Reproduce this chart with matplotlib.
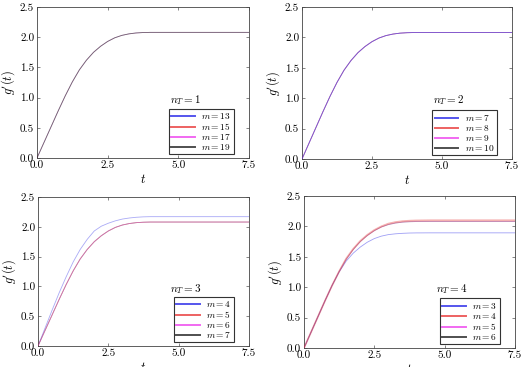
import matplotlib
matplotlib.use("Agg")
import matplotlib.pyplot as plt
import numpy as np

plt.rcParams['font.family'] = ['cmr10', 'DejaVu Serif']
plt.rcParams['mathtext.fontset'] = 'cm'
plt.rcParams['axes.formatter.use_mathtext'] = True
plt.rcParams['axes.unicode_minus'] = False

t = [0, 0.25, 0.5, 0.75, 1.0, 1.25, 1.5, 1.75, 2.0, 2.25, 2.5, 2.75, 3.0,
     3.25, 3.5, 3.75, 4.0, 4.5, 5.0, 6.0, 7.5]

base = [0, 0.26, 0.52, 0.78, 1.03, 1.26, 1.46, 1.62, 1.75, 1.85, 1.93, 1.99,
        2.03, 2.055, 2.07, 2.077, 2.08, 2.08, 2.08, 2.08, 2.08]

# n_T = 3, m = 4 (higher curve)
nt3_m4 = [0, 0.30, 0.60, 0.89, 1.16, 1.41, 1.62, 1.79, 1.93, 2.01, 2.06, 2.10,
          2.13, 2.148, 2.16, 2.167, 2.17, 2.17, 2.17, 2.17, 2.17]

# n_T = 4, m = 3 (lower curve)
nt4_m3 = [0, 0.26, 0.52, 0.78, 1.03, 1.25, 1.43, 1.56, 1.66, 1.74, 1.80, 1.84,
          1.865, 1.878, 1.886, 1.891, 1.893, 1.894, 1.894, 1.894, 1.894]

# n_T = 4, m = 4 (slightly higher plateau)
nt4_m4 = [0, 0.26, 0.52, 0.78, 1.03, 1.26, 1.47, 1.63, 1.76, 1.86, 1.94, 2.00,
          2.045, 2.07, 2.085, 2.093, 2.097, 2.10, 2.10, 2.10, 2.10]

panels = [
    dict(nT=1, ms=[13, 15, 17, 19], ys=[base, base, base, base]),
    dict(nT=2, ms=[7, 8, 9, 10], ys=[base, base, base, base]),
    dict(nT=3, ms=[4, 5, 6, 7], ys=[nt3_m4, base, base, base]),
    dict(nT=4, ms=[3, 4, 5, 6], ys=[nt4_m3, nt4_m4, base, base]),
]

colors = ['#2a2ae8', '#e83a3a', '#ee44ee', '#222222']
alphas = [
    [0.15, 0.15, 0.15, 0.6],
    [0.55, 0.3, 0.35, 0.3],
    [0.4, 0.35, 0.35, 0.4],
    [0.45, 0.4, 0.3, 0.4],
]
zorders = [
    [2, 3, 4, 5],
    [5, 3, 4, 2],
    [2, 4, 5, 3],
    [2, 5, 4, 3],
]
lwidths_p = [
    [0.6, 0.6, 0.6, 0.6],
    [0.6, 0.6, 0.6, 0.6],
    [0.6, 0.6, 0.6, 0.6],
    [0.6, 1.3, 0.6, 0.6],
]

W, H = 521, 367
fig = plt.figure(figsize=(W / 100, H / 100), dpi=100)

boxes = [
    (37, 249, 7, 158),
    (302, 512, 7, 159),
    (38, 249, 197, 346),
    (304, 515, 196, 348),
]

for i, (p, (l, r, tp, b)) in enumerate(zip(panels, boxes)):
    ax = fig.add_axes([l / W, (H - b) / H, (r - l) / W, (b - tp) / H])
    for j, (m, y) in enumerate(zip(p['ms'], p['ys'])):
        ax.plot(t, y, color=colors[j], alpha=alphas[i][j], lw=lwidths_p[i][j],
                zorder=zorders[i][j], label='$m=%d$' % m)
    ax.set_xlim(0, 7.5)
    ax.set_ylim(0, 2.5)
    ax.set_xticks([0, 2.5, 5.0, 7.5])
    ax.set_yticks([0, 0.5, 1.0, 1.5, 2.0, 2.5])
    ax.set_xticklabels(['0.0', '2.5', '5.0', '7.5'])
    ax.set_yticklabels(['0.0', '0.5', '1.0', '1.5', '2.0', '2.5'])
    ax.tick_params(direction='in', top=True, right=True, labelsize=8,
                   length=2.5, width=0.5, color='#555555', pad=2)
    for s in ax.spines.values():
        s.set_linewidth(0.6)
        s.set_color('#444444')
    ax.set_xlabel('$t$', fontsize=9, labelpad=2)
    ax.set_ylabel("$g'(t)$", fontsize=9, labelpad=2)
    # legend
    leg_r = (234 - 37) / 212
    leg = ax.legend(loc='lower right', bbox_to_anchor=(leg_r, 0.025),
                    borderaxespad=0, fontsize=6.8, fancybox=False,
                    handlelength=2.5, handletextpad=0.7, labelspacing=0.0,
                    borderpad=0.25, framealpha=1)
    leg.get_frame().set_edgecolor('#333333')
    leg.get_frame().set_linewidth(0.8)
    for ln in leg.get_lines():
        ln.set_linewidth(1.4)
        ln.set_alpha(0.8)
    ax.text(leg_r - 0.23, 0.385, '$n_T=%d$' % p['nT'], transform=ax.transAxes,
            ha='center', va='center', fontsize=8, zorder=10)

fig.savefig('out.png', dpi=100)
